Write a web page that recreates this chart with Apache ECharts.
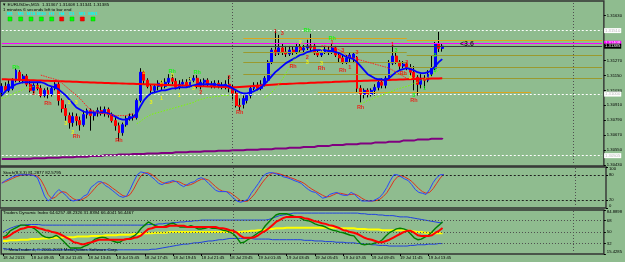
<!DOCTYPE html>
<html><head><meta charset="utf-8">
<script src="https://cdn.jsdelivr.net/npm/echarts@6/dist/echarts.min.js"></script>
<style>html,body{margin:0;padding:0;background:#8fbc8f;overflow:hidden}#c{width:625px;height:262px}</style>
</head><body><div id="c"></div>
<script>
// ---------- DATA ----------
const timeLabels = ['18 Jul 2013','18 Jul 09:45','18 Jul 11:45','18 Jul 13:45','18 Jul 15:45','18 Jul 17:45','18 Jul 19:45','18 Jul 21:45','18 Jul 23:45','19 Jul 01:45','19 Jul 03:45','19 Jul 05:45','19 Jul 07:45','19 Jul 09:45','19 Jul 11:45','19 Jul 13:45'];
const BARS_PER_LABEL = 8;
const N_SLOTS = 170; // bars + right chart shift

// [open, close, low, high]
const candles = [
[1.31014,1.31062,1.30981,1.31087],[1.31062,1.31030,1.31014,1.31095],[1.31030,1.31079,1.31014,1.31111],[1.31046,1.31111,1.31030,1.31127],[1.31111,1.31192,1.31095,1.31208],
[1.31176,1.31111,1.31095,1.31192],[1.31111,1.31144,1.31087,1.31160],[1.31144,1.31079,1.31062,1.31160],[1.31079,1.31030,1.31014,1.31111],[1.31030,1.31071,1.31006,1.31087],
[1.31071,1.31046,1.31030,1.31095],[1.31046,1.30989,1.30973,1.31071],[1.30989,1.31030,1.30973,1.31046],[1.31030,1.30998,1.30965,1.31054],[1.30998,1.31046,1.30981,1.31062],
[1.31046,1.31079,1.31030,1.31095],[1.31079,1.30949,1.30908,1.31095],[1.30949,1.30884,1.30852,1.30965],[1.30884,1.30827,1.30787,1.30917],[1.30827,1.30771,1.30722,1.30852],
[1.30771,1.30819,1.30738,1.30852],[1.30819,1.30787,1.30746,1.30844],[1.30787,1.30754,1.30706,1.30819],[1.30754,1.30835,1.30738,1.30868],[1.30835,1.30868,1.30803,1.30884],
[1.30868,1.30827,1.30706,1.30884],[1.30827,1.30852,1.30787,1.30868],[1.30852,1.30868,1.30819,1.30892],[1.30868,1.30844,1.30827,1.30900],[1.30844,1.30876,1.30819,1.30900],
[1.30876,1.30835,1.30811,1.30892],[1.30835,1.30787,1.30771,1.30852],[1.30787,1.30746,1.30706,1.30819],[1.30746,1.30690,1.30625,1.30771],[1.30690,1.30754,1.30665,1.30771],
[1.30754,1.30803,1.30738,1.30827],[1.30803,1.30819,1.30787,1.30844],[1.30819,1.30811,1.30787,1.30844],[1.30811,1.30949,1.30795,1.30965],[1.30949,1.31176,1.30933,1.31208],
[1.31176,1.31111,1.31079,1.31192],[1.31111,1.31062,1.31046,1.31127],[1.31062,1.31030,1.30998,1.31079],[1.31030,1.31062,1.31006,1.31079],[1.31062,1.31087,1.31030,1.31111],
[1.31087,1.31062,1.31030,1.31111],[1.31062,1.31095,1.31046,1.31127],[1.31095,1.31127,1.31079,1.31160],[1.31127,1.31103,1.31079,1.31160],[1.31103,1.31054,1.31038,1.31127],
[1.31054,1.31079,1.31038,1.31111],[1.31079,1.31095,1.31062,1.31119],[1.31095,1.31071,1.31054,1.31119],[1.31071,1.31111,1.31054,1.31135],[1.31111,1.31127,1.31095,1.31152],
[1.31127,1.31062,1.31046,1.31152],[1.31062,1.31095,1.31038,1.31119],[1.31095,1.31111,1.31062,1.31127],[1.31111,1.31079,1.31062,1.31127],[1.31079,1.31062,1.31046,1.31103],
[1.31062,1.31087,1.31046,1.31111],[1.31087,1.31062,1.31046,1.31111],[1.31062,1.31054,1.31038,1.31095],[1.31054,1.31079,1.31038,1.31111],[1.31079,1.31046,1.31014,1.31144],
[1.31046,1.31006,1.30949,1.31079],[1.31006,1.30908,1.30892,1.31030],[1.30908,1.30900,1.30868,1.30965],[1.30917,1.30965,1.30884,1.30989],[1.30949,1.30989,1.30925,1.31006],
[1.30989,1.31046,1.30965,1.31062],[1.31046,1.31071,1.31030,1.31095],[1.31071,1.31046,1.31030,1.31095],[1.31046,1.31079,1.31030,1.31111],[1.31079,1.31127,1.31062,1.31144],
[1.31111,1.31257,1.31095,1.31273],[1.31257,1.31354,1.31241,1.31371],[1.31354,1.31330,1.31306,1.31517],[1.31330,1.31371,1.31314,1.31476],[1.31371,1.31338,1.31314,1.31403],
[1.31338,1.31322,1.31298,1.31387],[1.31322,1.31354,1.31306,1.31387],[1.31354,1.31338,1.31314,1.31379],[1.31338,1.31379,1.31322,1.31411],[1.31379,1.31354,1.31338,1.31403],
[1.31354,1.31371,1.31338,1.31395],[1.31371,1.31387,1.31354,1.31436],[1.31387,1.31371,1.31338,1.31484],[1.31387,1.31330,1.31314,1.31411],[1.31330,1.31314,1.31298,1.31354],
[1.31314,1.31338,1.31298,1.31354],[1.31338,1.31354,1.31322,1.31379],[1.31354,1.31338,1.31314,1.31379],[1.31338,1.31371,1.31322,1.31403],[1.31371,1.31314,1.31298,1.31387],
[1.31314,1.31290,1.31257,1.31338],[1.31290,1.31257,1.31241,1.31322],[1.31257,1.31290,1.31241,1.31314],[1.31290,1.31314,1.31257,1.31338],[1.31290,1.31322,1.31249,1.31338],
[1.31298,1.31046,1.31014,1.31306],[1.31046,1.30998,1.30933,1.31071],[1.30998,1.31030,1.30965,1.31046],[1.31030,1.30998,1.30973,1.31046],[1.30998,1.31030,1.30981,1.31046],
[1.31030,1.31054,1.30989,1.31079],[1.31054,1.31095,1.31030,1.31111],[1.31095,1.31071,1.31046,1.31127],[1.31071,1.31127,1.31046,1.31144],[1.31127,1.31249,1.31111,1.31273],
[1.31249,1.31306,1.31233,1.31395],[1.31306,1.31257,1.31241,1.31338],[1.31257,1.31225,1.31192,1.31273],[1.31225,1.31241,1.31208,1.31265],[1.31241,1.31208,1.31192,1.31257],
[1.31208,1.31176,1.31144,1.31241],[1.31176,1.31135,1.31030,1.31225],[1.31135,1.31079,1.30989,1.31152],[1.31079,1.31127,1.31046,1.31160],[1.31127,1.31111,1.31046,1.31152],
[1.31111,1.31160,1.31095,1.31192],[1.31160,1.31208,1.31144,1.31306],[1.31208,1.31403,1.31192,1.31419],[1.31403,1.31367,1.31338,1.31500],[1.31367,1.31385,1.31341,1.31408]
];

const maBlue = [1.30989,1.31022,1.31046,1.31062,1.31079,1.31087,1.31095,1.31095,1.31095,1.31095,
1.31095,1.31095,1.31087,1.31071,1.31062,1.31054,1.31038,1.31014,1.30989,1.30957,
1.30925,1.30892,1.30876,1.30860,1.30852,1.30852,1.30852,1.30852,1.30852,1.30852,
1.30844,1.30835,1.30819,1.30803,1.30795,1.30795,1.30803,1.30819,1.30844,1.30900,
1.30949,1.30981,1.31006,1.31014,1.31022,1.31030,1.31030,1.31038,1.31046,1.31046,
1.31054,1.31054,1.31054,1.31062,1.31071,1.31079,1.31079,1.31079,1.31079,1.31079,
1.31079,1.31071,1.31071,1.31071,1.31062,1.31046,1.31030,1.31014,1.31006,1.31006,
1.31014,1.31022,1.31038,1.31054,1.31079,1.31111,1.31144,1.31176,1.31200,1.31225,
1.31249,1.31265,1.31281,1.31298,1.31314,1.31322,1.31338,1.31346,1.31354,1.31354,
1.31354,1.31354,1.31346,1.31346,1.31338,1.31330,1.31314,1.31298,1.31290,1.31281,
1.31257,1.31225,1.31192,1.31160,1.31144,1.31127,1.31119,1.31119,1.31111,1.31127,
1.31152,1.31176,1.31192,1.31200,1.31208,1.31200,1.31192,1.31176,1.31168,1.31168,
1.31176,1.31192,1.31225,1.31257,1.31281];

const maRed = [1.31120,1.31119,1.31118,1.31117,1.31116,1.31115,1.31114,1.31113,1.31112,1.31111,
1.31110,1.31109,1.31108,1.31107,1.31106,1.31105,1.31104,1.31103,1.31102,1.31101,
1.31100,1.31099,1.31098,1.31096,1.31095,1.31094,1.31093,1.31092,1.31091,1.31090,
1.31089,1.31088,1.31087,1.31086,1.31085,1.31084,1.31083,1.31082,1.31081,1.31080,
1.31079,1.31078,1.31077,1.31076,1.31075,1.31074,1.31073,1.31072,1.31071,1.31070,
1.31069,1.31068,1.31067,1.31066,1.31065,1.31064,1.31063,1.31062,1.31061,1.31060,
1.31059,1.31058,1.31057,1.31056,1.31055,1.31054,1.31054,1.31056,1.31058,1.31060,
1.31062,1.31064,1.31066,1.31068,1.31070,1.31072,1.31074,1.31076,1.31078,1.31080,
1.31081,1.31083,1.31084,1.31086,1.31087,1.31088,1.31089,1.31091,1.31092,1.31093,
1.31094,1.31095,1.31096,1.31097,1.31099,1.31100,1.31101,1.31102,1.31103,1.31104,
1.31105,1.31106,1.31107,1.31108,1.31109,1.31110,1.31111,1.31112,1.31113,1.31114,
1.31115,1.31116,1.31117,1.31118,1.31119,1.31120,1.31121,1.31122,1.31123,1.31124,
1.31124,1.31125,1.31126,1.31126,1.31127];

const redDottedSegs = [
 {start: 11, values: [1.31152,1.31144,1.31135,1.31127,1.31119,1.31111,1.31087,1.31062,1.31038,1.31014,1.30989,1.30965,1.30933,1.30900,1.30876,1.30860,1.30852,1.30844,1.30844,1.30835,1.30835,1.30827,1.30827,1.30827,1.30827,1.30835,1.30844]},
 {start: 90, values: [1.31387,1.31387,1.31379,1.31379,1.31371,1.31354,1.31338,1.31314,1.31298,1.31290,1.31281,1.31273,1.31265,1.31257,1.31249,1.31241,1.31233,1.31225,1.31217,1.31208,1.31192,1.31176,1.31160,1.31144,1.31127]}
];
const limeSegs = [
 {start: 0, values: [1.30965,1.30973,1.30989,1.30998,1.31014,1.31022,1.31038,1.31046,1.31054,1.31062,1.31062,1.31062]},
 {start: 38, values: [1.30762,1.30779,1.30803,1.30819,1.30835,1.30844,1.30852,1.30860,1.30868,1.30876,1.30884,1.30892,1.30900,1.30908,1.30917,1.30925,1.30933,1.30949,1.30957,1.30965,1.30973,1.30973,1.30981,1.30981,1.30989,1.30989,1.30989]},
 {start: 74, values: [1.30973,1.30989,1.31014,1.31046,1.31079,1.31119,1.31168,1.31217,1.31265,1.31314,1.31363,1.31411]},
 {start: 101, values: [1.30925,1.30933,1.30949,1.30957,1.30973,1.30981,1.30989,1.31006,1.31014,1.31022,1.31038,1.31046,1.31054,1.31062,1.31071,1.31087,1.31095,1.31111,1.31119,1.31135,1.31152,1.31168,1.31192,1.31208]}
];
// higher timeframe MA, one value per 4 bars
const purpleH1 = [1.30479,1.30481,1.30484,1.30488,1.30492,1.30497,1.30503,1.30509,1.30514,1.30518,1.30523,1.30527,1.30532,1.30536,1.30541,1.30545,
1.30549,1.30553,1.30557,1.30562,1.30568,1.30575,1.30582,1.30590,1.30597,1.30603,1.30610,1.30617,1.30626,1.30634,1.30641,1.30647];

const stochMain = [60,67,71,76,79,81,81,81,81,79, 74,52,29,17,24,36,45,38,31,21, 17,19,21,29,33,50,57,64,64,55, 50,43,36,29,26,29,45,64,81,88,
86,83,76,69,60,57,62,64,67,64, 57,52,57,62,64,71,74,69,60,52, 43,40,40,40,33,24,17,14,17,21, 36,48,60,74,83,86,86,83,81,76,
74,71,67,64,60,52,45,40,38,31, 24,26,33,36,38,33,31,31,38,33, 24,17,17,17,17,21,26,36,50,67, 81,81,76,71,67,57,45,38,36,33, 45,62,74,81,81.29];
const stochSignal = [62,64,68,72,76,79,80,81,81,80, 78,68,52,33,23,26,35,40,38,30, 23,19,19,23,28,37,47,57,62,61, 56,49,43,36,30,28,33,46,63,78,
85,86,82,76,68,62,60,61,64,65, 63,58,55,57,61,66,70,71,68,60, 52,45,41,40,38,32,25,18,16,17, 25,35,48,61,72,81,85,85,83,80,
77,74,71,67,64,59,52,46,41,36, 31,27,28,32,36,36,34,32,33,34, 30,24,19,17,17,18,21,28,37,51, 66,76,79,76,71,65,56,47,40,36, 38,47,60,73,82.58];

const tdiRsi = [42,45,52,55,58,61,61,60,58,55, 50,45,42,41,42,45,41,36,30,25, 25,25,25,28,30,34,39,41,42,41, 38,36,34,34,38,39,41,44,49,56,
61,66,63,60,58,58,60,63,64,61, 58,58,58,60,58,55,55,56,58,56, 56,55,53,52,50,47,41,33,34,38, 41,45,49,52,60,66,72,77,79,79,
79,77,75,74,72,69,68,66,63,61, 60,58,55,53,52,50,49,47,45,44, 37,31,30,31,31,33,34,38,44,49, 52,55,56,55,53,47,41,38,39,42, 45,50,56,61,66.40];
const tdiSignal = [41,42,45,49,52,55,56,58,58,58, 56,55,53,52,50,49,47,44,41,38, 34,33,31,31,33,34,36,38,38,38, 38,38,38,38,38,39,39,41,42,45,
50,55,56,58,58,58,58,60,60,60, 60,60,58,58,58,58,58,58,58,58, 58,56,56,55,53,52,49,44,41,41, 41,42,45,49,52,56,61,66,69,72,
74,74,74,74,74,72,71,69,67,66, 64,63,61,60,58,56,53,52,50,49, 47,44,41,39,38,36,34,34,36,38, 41,44,47,50,52,52,49,45,44,44, 44,45,49,52,56.45];
const tdiBase = [36,36,37,37,37,38,38,38,39,39, 39,40,40,40,41,41,41,42,42,42, 42,43,43,43,43,44,44,44,44,45, 45,45,45,46,46,46,46,47,47,47,
48,48,48,49,49,49,49,50,50,50, 50,50,50,50,50,50,50,50,50,50, 50,50,50,50,50,50,50,50,51,51, 52,52,53,53,54,55,55,56,56,56,
57,57,57,57,57,57,57,57,57,57, 57,57,57,57,57,56,56,56,56,56, 55,55,55,54,54,54,54,53,53,53, 53,53,53,53,52,52,51,50,50,49, 49,49,48,48,48.23];
const tdiUpper = [50,53,56,58,60,61,61,62,62,62, 62,61,61,61,61,61,61,61,61,61, 61,61,61,61,61,61,61,61,61,61, 61,61,61,61,61,61,61,61,61,61,
61,62,62,62,63,63,64,64,65,65, 66,66,67,67,68,68,69,69,69,69, 69,69,69,69,69,69,69,69,69,69, 69,69,69,69,69,70,72,74,76,77,
78,79,80,80,80,80,80,80,80,80, 80,80,80,80,80,80,80,80,80,80, 80,79,79,78,78,78,77,77,76,76, 76,75,74,74,74,73,72,71,70,69, 68,67,66,65,64.63];
const tdiLower = [24,23,23,22,22,22,22,22,22,22, 22,22,22,22,22,22,22,22,22,22, 22,22,22,22,22,22,22,22,22,22, 22,22,22,22,22,22,22,22,22,22,
22,22,23,23,24,25,26,27,28,29, 30,31,31,32,33,33,34,35,36,36, 37,38,38,39,40,40,40,40,40,40, 40,39,39,39,39,39,38,38,38,38,
38,38,38,38,38,37,37,37,36,36, 36,35,35,35,34,34,34,33,33,33, 32,32,31,31,30,30,29,29,29,28, 28,28,28,28,28,29,29,30,30,30, 31,31,31,32,31.84];

// chart texts on the price panel: [bar, price, text]
const rhGreen = [[4,1.31217,'Rh'],[48,1.31184,'Rh'],[55,1.31176,'Rh'],[86,1.31509,'Rh'],[93,1.31444,'Rh']];
const rhRed = [[13,1.30925,'Rh'],[21,1.30657,'Rh'],[33,1.30625,'Rh'],[67,1.30852,'Rh'],[82,1.31225,'Rh'],[90,1.31208,'Rh'],[96,1.31192,'Rh'],[101,1.30892,'Rh'],[113,1.31168,'Rh'],[116,1.30949,'Rh']];
const numsYellow = [[18,1.30762,'3'],[19,1.30933,'3'],[21,1.30933,'3'],[20,1.30690,'2'],[40,1.31176,'1'],[42,1.30933,'3'],[45,1.31095,'2'],[45,1.30965,'1'],[48,1.31152,'3'],[50,1.30989,'1'],[53,1.31111,'2'],[54,1.31046,'3'],[84,1.31411,'2'],[86,1.31257,'3'],[90,1.31354,'3'],[90,1.31249,'3'],[115,1.31135,'3']];
const numsRed = [[9,1.31006,'2'],[56,1.31014,'2'],[64,1.31135,'3'],[77,1.31500,'1'],[77,1.31330,'1'],[79,1.31484,'3'],[86,1.31298,'2'],[93,1.31411,'1'],[96,1.31354,'3'],[98,1.31217,'1'],[100,1.31338,'3'],[110,1.31395,'1'],[114,1.31257,'3']];
const numsGreen = [[111,1.31354,'3'],[116,1.30989,'3'],[119,1.31046,'1'],[122,1.31314,'3'],[122,1.31192,'3']];
const distText = [[129,1.31403,'<3.6']];

// horizontal price lines
const priceTicks = [1.3043,1.3055,1.3067,1.3079,1.3091,1.3103,1.3115,1.3127,1.3163];
const bidPrice = 1.31385, magentaPrice = 1.31408;
const whiteLevels = [1.31510, 1.31000, 1.30505];
const levelSegs = [ // [fromBar, toBar, price, kind]
 [68,114,1.31450,'orange'],[114,169,1.31436,'orange'],
 [68,114,1.31333,'olive'],[68,114,1.31252,'olive'],[68,114,1.31163,'olive'],
 [114,169,1.31310,'olive'],[114,169,1.31214,'olive'],[114,169,1.31130,'olive'],
 [89,149,1.31012,'orange']
];
const daySepBar = 65, extraVBar = 161;
const stochLevels = [80, 20];
const tdiLevels = [68, 50, 32];
const stochTicks = [0,20,80,100];
const tdiTicks = [15.4285,32,50,68,84.8898];

const tfNames = ['M1','M5','M15','M30','H1','H4','D1','W1','MN1'];
const tfState = [1,1,1,1,1,0,1,0,1];

// ---------- BUILD ----------
const FONT = '"Liberation Sans", Arial, sans-serif';
const slots = Array.from({length: N_SLOTS}, (_, i) => String(i));
function expandSegs(segs, n) { const a = new Array(n).fill(null); segs.forEach(s => s.values.forEach((v, k) => { a[s.start + k] = v; })); return a; }
const nBars = candles.length;
const purple = Array.from({length: nBars}, (_, i) => purpleH1[Math.floor(i / 4)]);
const bodies = candles.map(c => [c[0], c[1], Math.min(c[0], c[1]), Math.max(c[0], c[1])]);
const vLines = (color) => [
 {xAxis: daySepBar, lineStyle: {color: color, type: [1, 2], width: 1}},
 {xAxis: extraVBar, lineStyle: {color: color, type: [1, 2], width: 1}}
];
const boxLabel = (bg, fg) => ({show: true, position: 'end', distance: 2, formatter: p => Number(p.value).toFixed(5),
  backgroundColor: bg, color: fg, padding: [1, 1, 0, 1], fontSize: 4.2, fontFamily: FONT});
// full-width horizontal line as a segment from the first to the last slot
const hLine = (v, lineStyle, label) => [
  {coord: [0, v], value: v, lineStyle: lineStyle, label: label || {show: false}},
  {coord: [N_SLOTS - 1, v], value: v}
];

const mainMarks = [
 ...levelSegs.map(s => [
   {coord: [s[0], s[2]], lineStyle: {color: s[3] === 'orange' ? '#daa520' : '#9a9a2e', width: 1, type: 'solid'}},
   {coord: [s[1], s[2]]}
 ]),
 ...whiteLevels.map(v => hLine(v, {color: '#ffffff', type: [2, 2], width: 1}, boxLabel('#ffffff', '#b8b8b8'))),
 hLine(magentaPrice, {color: '#ff00ff', type: 'solid', width: 1.2}, boxLabel('#ff00ff', '#ffffff')),
 hLine(bidPrice, {color: '#3c3c3c', type: 'solid', width: 1}, boxLabel('#000000', '#ffffff')),
 ...vLines('#505050')
];

function textSeries(data, color, size, weight, align) {
  return {type: 'scatter', xAxisIndex: 0, yAxisIndex: 0, data: data, symbolSize: 0.1, silent: true, z: 12,
    itemStyle: {color: 'rgba(0,0,0,0)'},
    label: {show: true, position: 'inside', align: align || 'center', formatter: p => p.value[2], color: color,
      fontSize: size, fontWeight: weight, fontFamily: FONT}};
}

const smallTxt = (text, x, y, opts) => Object.assign({type: 'text', x: x, y: y, silent: true, z: 100,
  style: Object.assign({text: text, fill: '#000', font: '4.4px ' + FONT, verticalAlign: 'middle'}, (opts || {}))});

const tfX = [10, 20.7, 31, 41.3, 51.7, 61.7, 72, 82.3, 93];
const graphics = [
  smallTxt('\u25BC EURUSDm,M15  1.31367 1.31408 1.31341 1.31385', 2, 5),
  smallTxt('1 minutes 6 seconds left to bar end', 3, 10),
  ...tfNames.map((t, i) => smallTxt(t, tfX[i], 14, {fill: '#00ffff', font: 'bold 4.4px ' + FONT, align: 'center'})),
  ...tfState.map((s, i) => ({type: 'rect', silent: true, z: 100, shape: {x: tfX[i] - 2, y: 17, width: 4, height: 4},
      style: {fill: s ? '#00ff00' : '#ff0000', stroke: s ? '#00c000' : '#c00000', lineWidth: 0.5}})),
  smallTxt('Stoch(8,3,3) 81.2877 82.5795', 3, 173),
  smallTxt('Traders Dynamic Index 64.6257 48.2326 31.8394 66.4041 56.4467', 3, 213),
  smallTxt('\u00A9 MetaTrader 4, \u00A9 2001-2013 MetaQuotes Software Corp.', 4, 250)
];

const gridBase = {left: 0, right: 19, show: true, borderColor: '#333333', borderWidth: 1.4, backgroundColor: 'rgba(0,0,0,0)'};
const hiddenX = (gi) => ({type: 'category', gridIndex: gi, data: slots, boundaryGap: true,
  axisLabel: {show: false}, axisTick: {show: false}, axisLine: {show: false}, splitLine: {show: false}});
const labelTick = (i) => i % BARS_PER_LABEL === 0 && i / BARS_PER_LABEL < timeLabels.length;

const yLabelStyle = {fontSize: 4.2, color: '#000', margin: 3, fontFamily: FONT};

const option = {
  animation: false,
  backgroundColor: '#8fbc8f',
  textStyle: {fontFamily: FONT},
  graphic: graphics,
  grid: [
    Object.assign({top: 1, height: 165}, gridBase),
    Object.assign({top: 167, height: 41}, gridBase),
    Object.assign({top: 210, height: 44}, gridBase)
  ],
  xAxis: [
    hiddenX(0), hiddenX(1),
    {type: 'category', gridIndex: 2, data: slots, boundaryGap: true, axisLine: {show: false}, splitLine: {show: false},
     axisTick: {show: true, interval: labelTick, alignWithLabel: true, length: 2, lineStyle: {color: '#000'}},
     axisLabel: {show: true, interval: labelTick, align: 'left', margin: 2, fontSize: 4.2, color: '#000', fontFamily: FONT,
       formatter: (v) => timeLabels[Number(v) / BARS_PER_LABEL] || ''}}
  ],
  yAxis: [
    {type: 'value', gridIndex: 0, position: 'right', min: 1.30422, max: 1.31748, splitLine: {show: false}, axisLine: {show: false},
     axisTick: {show: true, customValues: priceTicks, length: 2, lineStyle: {color: '#000'}},
     axisLabel: Object.assign({customValues: priceTicks, formatter: v => v.toFixed(5)}, yLabelStyle)},
    {type: 'value', gridIndex: 1, position: 'right', min: 0, max: 100, splitLine: {show: false}, axisLine: {show: false},
     axisTick: {show: true, customValues: stochTicks, length: 2, lineStyle: {color: '#000'}},
     axisLabel: Object.assign({customValues: stochTicks, formatter: v => String(v), verticalAlignMinLabel: 'bottom', verticalAlignMaxLabel: 'top'}, yLabelStyle)},
    {type: 'value', gridIndex: 2, position: 'right', min: 15.4285, max: 84.8898, splitLine: {show: false}, axisLine: {show: false},
     axisTick: {show: true, customValues: tdiTicks, length: 2, lineStyle: {color: '#000'}},
     axisLabel: Object.assign({customValues: tdiTicks, formatter: v => (Math.abs(v - Math.round(v)) < 1e-9 ? String(v) : v.toFixed(4)), verticalAlignMinLabel: 'bottom', verticalAlignMaxLabel: 'top'}, yLabelStyle)}
  ],
  series: [
    {type: 'candlestick', name: 'wicks', xAxisIndex: 0, yAxisIndex: 0, data: candles, barWidth: 1, z: 2, silent: true,
     itemStyle: {color: '#000', color0: '#000', borderColor: '#000', borderColor0: '#000', borderWidth: 1},
     markLine: {silent: true, symbol: ['none', 'none'], animation: false, label: {show: false}, data: mainMarks}},
    {type: 'candlestick', name: 'bodies', xAxisIndex: 0, yAxisIndex: 0, data: bodies, barWidth: 2.4, z: 3, silent: true,
     itemStyle: {color: '#0000ff', color0: '#ff0000', borderColor: '#0000ff', borderColor0: '#ff0000', borderWidth: 1}},
    {type: 'line', xAxisIndex: 0, yAxisIndex: 0, data: purple, step: 'end', symbol: 'none', z: 4, silent: true,
     lineStyle: {color: '#800080', width: 2}},
    {type: 'line', xAxisIndex: 0, yAxisIndex: 0, data: maRed, symbol: 'none', z: 5, silent: true,
     lineStyle: {color: '#ff0000', width: 2}},
    {type: 'line', xAxisIndex: 0, yAxisIndex: 0, data: maBlue, symbol: 'none', z: 6, silent: true,
     lineStyle: {color: '#0000ff', width: 1.8}},
    {type: 'line', xAxisIndex: 0, yAxisIndex: 0, data: expandSegs(redDottedSegs, nBars), symbol: 'none', z: 6, silent: true, connectNulls: false,
     lineStyle: {color: '#ff2020', width: 1, type: [1.5, 1]}},
    {type: 'line', xAxisIndex: 0, yAxisIndex: 0, data: expandSegs(limeSegs, nBars), symbol: 'none', z: 6, silent: true, connectNulls: false,
     lineStyle: {color: '#7cfc00', width: 1, type: [1.5, 1.5]}},
    textSeries(rhGreen, '#00ff00', 5.5, 'bold'),
    textSeries(rhRed, '#ff0000', 5.5, 'bold'),
    textSeries(numsYellow, '#ffff00', 5.5, 'bold'),
    textSeries(numsRed, '#ff0000', 5.5, 'bold'),
    textSeries(numsGreen, '#00ff00', 5.5, 'bold'),
    textSeries(distText, '#000000', 7, 'bold', 'left'),
    // Stochastic
    {type: 'line', xAxisIndex: 1, yAxisIndex: 1, data: stochSignal, symbol: 'none', silent: true, z: 4,
     lineStyle: {color: '#e0301e', width: 1},
     markLine: {silent: true, symbol: ['none', 'none'], animation: false, label: {show: false},
       data: [...stochLevels.map(v => hLine(v, {color: '#202020', type: [2, 2], width: 1})), ...vLines('#505050')]}},
    {type: 'line', xAxisIndex: 1, yAxisIndex: 1, data: stochMain, symbol: 'none', silent: true, z: 5,
     lineStyle: {color: '#2846ff', width: 1}},
    // TDI
    {type: 'line', xAxisIndex: 2, yAxisIndex: 2, data: tdiUpper, symbol: 'none', silent: true, z: 3,
     lineStyle: {color: '#2040e0', width: 1},
     markLine: {silent: true, symbol: ['none', 'none'], animation: false, label: {show: false},
       data: [...tdiLevels.map(v => hLine(v, {color: '#505050', type: [1, 2], width: 1})), ...vLines('#505050')]}},
    {type: 'line', xAxisIndex: 2, yAxisIndex: 2, data: tdiLower, symbol: 'none', silent: true, z: 3,
     lineStyle: {color: '#2040e0', width: 1}},
    {type: 'line', xAxisIndex: 2, yAxisIndex: 2, data: tdiBase, symbol: 'none', silent: true, z: 4,
     lineStyle: {color: '#ffff00', width: 2}},
    {type: 'line', xAxisIndex: 2, yAxisIndex: 2, data: tdiRsi, symbol: 'none', silent: true, z: 5,
     lineStyle: {color: '#008000', width: 1.4}},
    {type: 'line', xAxisIndex: 2, yAxisIndex: 2, data: tdiSignal, symbol: 'none', silent: true, z: 6,
     lineStyle: {color: '#ff0000', width: 2}}
  ]
};

const chart = echarts.init(document.getElementById('c'), null, {renderer: 'canvas', width: 625, height: 262});
chart.setOption(option);
</script>
</body></html>
